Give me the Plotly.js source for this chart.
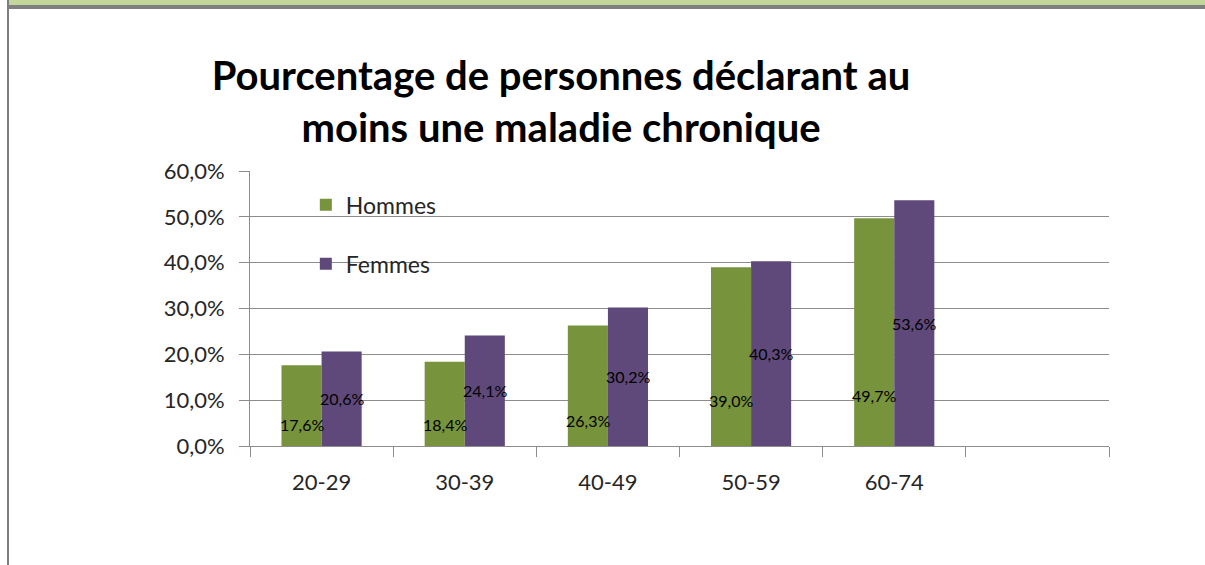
<!DOCTYPE html>
<html>
<head>
<meta charset="utf-8">
<script src="https://cdn.plot.ly/plotly-3.0.1.min.js"></script>
<style>
  html, body { margin: 0; padding: 0; background: #ffffff; }
  #wrap { position: relative; width: 1205px; height: 565px; overflow: hidden; }
  #chart { position: absolute; left: 0; top: 0; width: 1205px; height: 565px; }
  .deco { position: absolute; z-index: 5; }
</style>
</head>
<body>
<div id="wrap">
  <div id="chart"></div>
  <div class="deco" style="left:9px;top:0;width:1196px;height:5px;background:#C3D69B;"></div>
  <div class="deco" style="left:7px;top:5px;width:1198px;height:4px;background:#7F7F7F;"></div>
  <div class="deco" style="left:7px;top:0;width:2px;height:565px;background:#7F7F7F;"></div>
</div>
<script>
// ---- data ----
const categories = ['20-29', '30-39', '40-49', '50-59', '60-74', ' '];
const barCategories = ['20-29', '30-39', '40-49', '50-59', '60-74'];
const hommes = [17.6, 18.4, 26.3, 39.0, 49.7];
const femmes = [20.6, 24.1, 30.2, 40.3, 53.6];
const hommesLabelY = [4.6, 4.6, 5.5, 10.0, 11.1];   // label heights (axis units) as placed in original
const seriesNames = ['Hommes', 'Femmes'];
const yTicks = [0, 10, 20, 30, 40, 50, 60];

const FONT = 'Lato, "Open Sans", sans-serif';
const fmt = v => v.toFixed(1).replace('.', ',') + '%';

const traces = [
  {
    type: 'bar', name: seriesNames[0], x: barCategories, y: hommes,
    marker: { color: '#77933C' }, legendgroup: 'h', hoverinfo: 'skip'
  },
  {
    type: 'bar', name: seriesNames[1], x: barCategories, y: femmes,
    marker: { color: '#5F497A' }, legendgroup: 'f', hoverinfo: 'skip'
  }
];

const annotations = [];
barCategories.forEach((c, i) => {
  annotations.push({
    x: c, y: hommesLabelY[i], xref: 'x', yref: 'y', text: fmt(hommes[i]),
    showarrow: false, xshift: -20, font: { family: FONT, size: 16, color: '#000000' }
  });
  annotations.push({
    x: c, y: femmes[i] / 2, xref: 'x', yref: 'y', text: fmt(femmes[i]),
    showarrow: false, xshift: 20, font: { family: FONT, size: 16, color: '#000000' }
  });
});

const layout = {
  width: 1205, height: 565,
  paper_bgcolor: '#ffffff', plot_bgcolor: '#ffffff',
  margin: { l: 250, r: 96, t: 171, b: 119, pad: 0 },
  separators: ', ',
  font: { family: FONT, color: '#262626' },
  title: {
    text: 'Pourcentage de personnes déclarant au<br>moins une maladie chronique',
    font: { family: FONT, size: 40, color: '#000000', weight: 'bold' },
    x: 561 / 1205, xref: 'container', xanchor: 'center',
    y: 1 - 90 / 565, yref: 'container', yanchor: 'top'
  },
  barmode: 'group', bargap: 0.44, bargroupgap: 0,
  showlegend: true,
  legend: {
    x: 0.065, y: 0.955, xanchor: 'left', yanchor: 'top',
    traceorder: 'grouped', tracegroupgap: 26,
    font: { family: FONT, size: 23, color: '#262626' },
    bgcolor: 'rgba(0,0,0,0)', itemwidth: 30
  },
  xaxis: {
    type: 'category', categoryorder: 'array', categoryarray: categories,
    range: [-0.5, 5.5], tickson: 'boundaries', ticks: 'outside', ticklen: 10,
    tickcolor: '#8c8c8c', showline: true, linecolor: '#8c8c8c', linewidth: 1,
    showgrid: false, zeroline: false, fixedrange: true,
    tickfont: { family: FONT, size: 22, color: '#262626' }, ticklabelstandoff: 17
  },
  yaxis: {
    range: [0, 60], tickvals: yTicks, ticktext: yTicks.map(fmt),
    ticks: 'outside', ticklen: 10, tickcolor: '#8c8c8c',
    showline: true, linecolor: '#8c8c8c', linewidth: 1,
    showgrid: true, gridcolor: '#8c8c8c', gridwidth: 1, zeroline: false,
    tickfont: { family: FONT, size: 22, color: '#262626' }, ticklabelstandoff: 10,
    fixedrange: true
  },
  annotations: annotations
};

Plotly.newPlot('chart', traces, layout, { displayModeBar: false, staticPlot: true });
</script>
</body>
</html>
